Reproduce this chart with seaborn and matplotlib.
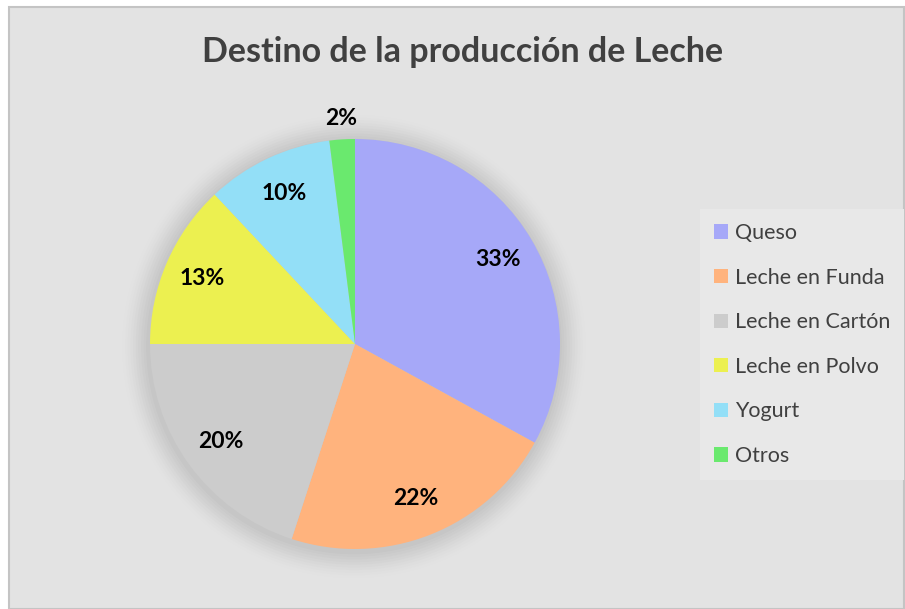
import numpy as np
import matplotlib
matplotlib.use("Agg")
import matplotlib.pyplot as plt
from matplotlib.patches import Rectangle, Circle
import seaborn as sns

# data
categorias = ["Queso", "Leche en Funda", "Leche en Cartón", "Leche en Polvo", "Yogurt", "Otros"]
porcentajes = [33, 22, 20, 13, 10, 2]
colores = ["#a6a8f8", "#ffb37d", "#cccccc", "#ecf050", "#93dff7", "#6ae96e"]
titulo = "Destino de la producción de Leche"

sns.set_theme(style="white")
plt.rcParams["font.family"] = ["Lato", "DejaVu Sans"]

fig = plt.figure(figsize=(9.05, 6.09), dpi=100)
fig.patch.set_facecolor("white")

# chart area (grey panel with thin border)
fig.patches.append(Rectangle((9 / 905, 0), 895 / 905, 602 / 609, transform=fig.transFigure,
                             facecolor="#e3e3e3", edgecolor="#c4c4c4", linewidth=1.5, zorder=-5))

ax = fig.add_axes([150 / 905, 60 / 609, 410 / 905, 410 / 609])
ax.set_facecolor("none")

# soft shadow behind the pie
for i, a in enumerate(np.linspace(0.06, 0.012, 10)):
    sh = Circle((-0.005, -0.012), 1.0 + 0.013 * (i + 1), facecolor="#909090",
                edgecolor="none", alpha=a, zorder=0)
    sh.set_clip_on(False)
    ax.add_patch(sh)

wedges, texts, autotexts = ax.pie(
    porcentajes, colors=sns.color_palette(colores), startangle=90, counterclock=False,
    autopct="%1.0f%%", pctdistance=0.81, radius=1.0,
    wedgeprops=dict(linewidth=0, edgecolor="none"),
    textprops=dict(fontsize=16.5, fontweight="bold", color="black"))

# tiny slice gets its label outside the pie
for w, t, p in zip(wedges, autotexts, porcentajes):
    if p < 5:
        x, y = t.get_position()
        t.set_position((x * 1.1 / 0.81, y * 1.1 / 0.81))

ax.set_xlim(-1, 1)
ax.set_ylim(-1, 1)
ax.set_aspect("equal")
ax.axis("off")

fig.text(463 / 905, 1 - 52 / 609, titulo, ha="center", va="center",
         fontsize=24.5, fontweight="bold", color="#404040")

leg = fig.legend(wedges, categorias, loc="upper left", bbox_to_anchor=(700 / 905, 1 - 209 / 609),
                 borderaxespad=0, frameon=True, fontsize=15.5, labelcolor="#404040",
                 handlelength=0.65, handleheight=0.65, handletextpad=0.3, labelspacing=1.14,
                 borderpad=0.66, fancybox=False)
leg.get_frame().set_facecolor("#e8e8e8")
leg.get_frame().set_edgecolor("none")
leg.get_frame().set_alpha(1)

fig.savefig("out.png", dpi=100, facecolor=fig.get_facecolor())
